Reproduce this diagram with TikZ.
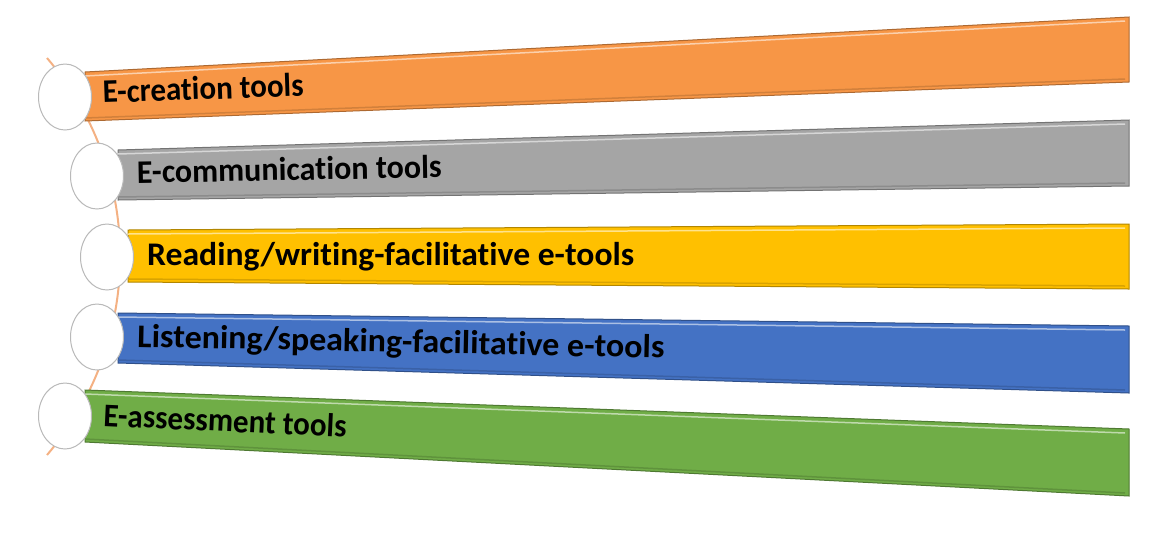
\documentclass[tikz,border=0pt]{standalone}
\usepackage{fontspec}
\usepackage{graphicx}
\setmainfont{Carlito}[Ligatures=NoCommon]
\usetikzlibrary{shapes.geometric}
\definecolor{barorange}{HTML}{F79646}
\definecolor{bargray}{HTML}{A5A5A5}
\definecolor{baryellow}{HTML}{FFC000}
\definecolor{barblue}{HTML}{4472C4}
\definecolor{bargreen}{HTML}{70AD47}
\definecolor{arcorange}{HTML}{F4B183}
\tikzset{
  dot/.style={ellipse, draw=gray!55, fill=white, line width=1pt, minimum width=53pt, minimum height=66pt, inner sep=0pt},
  bartext/.style={font=\fontsize{33}{36}\selectfont\bfseries, inner sep=0pt, anchor=base west}
}
\begin{document}
\begin{tikzpicture}[x=1pt,y=-1pt]
\useasboundingbox (0,0) rectangle (1160,542);
\draw[arcorange, line width=2pt] (47,58) .. controls (144.5,172) and (144.5,341) .. (47,455);
\foreach \n/\col/\lx/\lt/\lb/\rt/\rb/\cx/\cy/\tx/\ty/\ang/\sx/\txt in {
  1/barorange/85/72/121/17/82/65/97/103/103/2/0.94/{E-creation tools},
  2/bargray/118/150/200/120/186/97/176/137/183/1/0.97/{E-communication tools},
  3/baryellow/128/230/282/224/289/107/257/147/265/0/1.02/{Reading/writing-facilitative e-tools},
  4/barblue/118/313/363/326/393/97/337/137/347/-1.2/1.03/{Listening/speaking-facilitative e-tools},
  5/bargreen/85/390/442/429/496/65/416/103/426/-2.7/0.94/{E-assessment tools}}
{
  \filldraw[fill=\col, draw=\col!70!black, line width=1pt] (\lx,\lt) -- (1129,\rt) -- (1129,\rb) -- (\lx,\lb) -- cycle;
  \draw[\col!45!white, line width=1.5pt] (\lx,\lt+4) -- (1125,\rt+4);
  \draw[\col!85!black, line width=1.5pt] (\lx,\lb-3) -- (1125,\rb-3);
  \node[dot] (c\n) at (\cx,\cy) {};
  \node[bartext, rotate=\ang] (t\n) at (\tx,\ty) {\scalebox{\sx}[1]{\txt}};
}
\end{tikzpicture}
\end{document}
